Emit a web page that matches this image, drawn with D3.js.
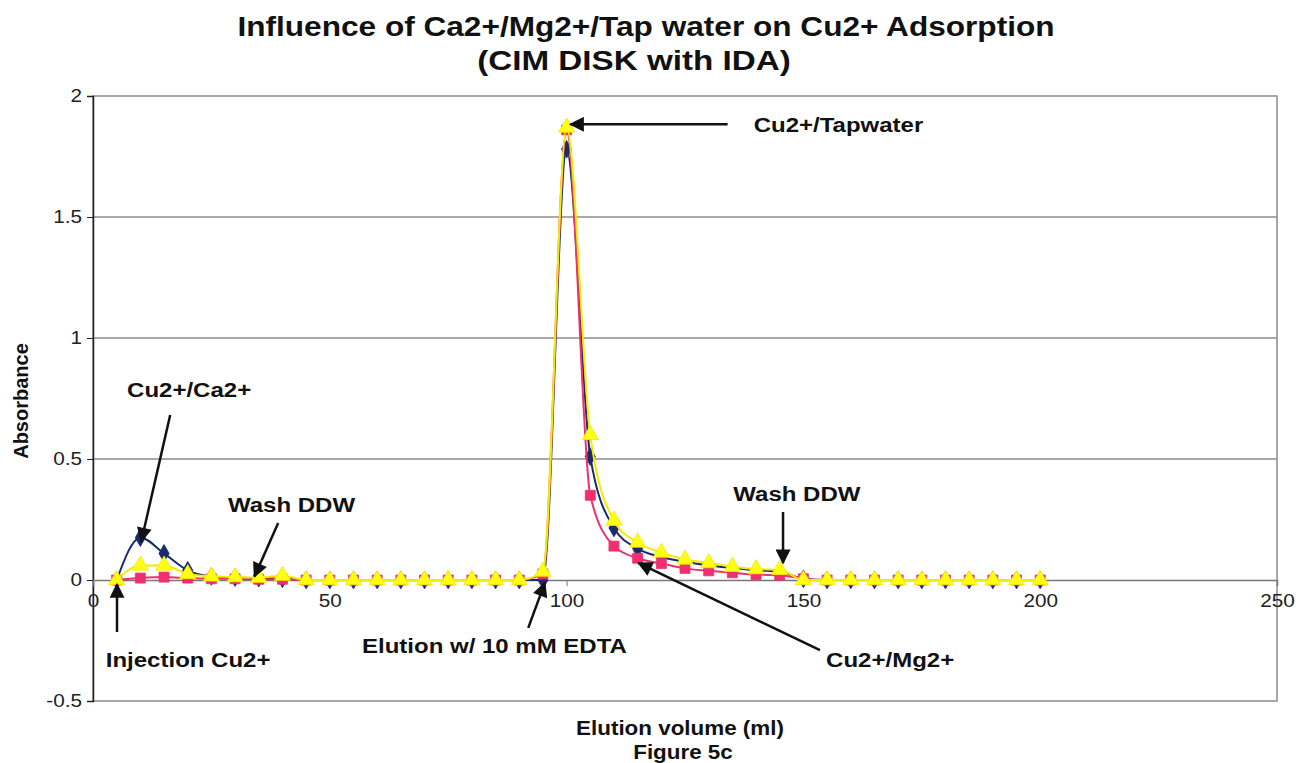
<!DOCTYPE html>
<html>
<head>
<meta charset="utf-8">
<script src="https://cdn.jsdelivr.net/npm/d3@7"></script>
<style>
  body { margin: 0; background: #fff; }
  text { font-family: "Liberation Sans", Arial, sans-serif; }
</style>
</head>
<body>
<div id="chart"></div>
<script>
// elution volume (ml) for each reading
var volumes = [5, 10, 15, 20, 25, 30, 35, 40, 45, 50, 55, 60, 65, 70, 75, 80, 85, 90, 95, 100,
               105, 110, 115, 120, 125, 130, 135, 140, 145, 150, 155, 160, 165, 170, 175, 180, 185, 190, 195, 200];

// absorbance readings
var caValues = [0, 0.175, 0.11, 0.04, 0.015, 0.01, 0.008, 0.005, 0, 0, 0, 0, 0, 0, 0, 0, 0, 0, 0, 1.78,
                0.51, 0.215, 0.13, 0.095, 0.075, 0.06, 0.05, 0.04, 0.035, 0.005, 0, 0, 0, 0, 0, 0, 0, 0, 0, 0];
var mgValues = [0, 0.008, 0.012, 0.008, 0.005, 0.005, 0.003, 0.003, 0, 0, 0, 0, 0, 0, 0, 0, 0, 0, 0.025, 1.86,
                0.35, 0.14, 0.09, 0.068, 0.048, 0.038, 0.03, 0.022, 0.02, 0.005, 0, 0, 0, 0, 0, 0, 0, 0, 0, 0];
var tapValues = [0, 0.06, 0.06, 0.025, 0.015, 0.012, 0.01, 0.018, 0, 0, 0, 0, 0, 0, 0, 0, 0, 0, 0.035, 1.87,
                 0.6, 0.245, 0.155, 0.113, 0.085, 0.07, 0.055, 0.045, 0.042, 0, 0, 0, 0, 0, 0, 0, 0, 0, 0, 0];

var xTicks = [0, 50, 100, 150, 200, 250];
var yTicks = [-0.5, 0, 0.5, 1, 1.5, 2];

// annotation labels and their arrows (data units)
var noteTexts = ["Cu2+/Tapwater", "Cu2+/Ca2+", "Wash DDW", "Injection Cu2+", "Elution w/ 10 mM EDTA", "Cu2+/Mg2+", "Wash DDW"];
var noteAt = [[139.5, 1.85], [7.2, 0.756], [28.5, 0.281], [2.7, -0.36], [56.8, -0.30], [154.8, -0.36], [135.2, 0.326]];
var arrowFrom = [[134, 1.883], [16.3, 0.682], [39.1, 0.236], [5.07, -0.215], [91.9, -0.198], [153.5, -0.29], [145.7, 0.281]];
var arrowTo = [[100.8, 1.883], [10.2, 0.16], [34.1, 0.015], [5.07, -0.018], [95.4, -0.012], [115.2, 0.07], [145.7, 0.07]];

var width = 1296, height = 763;
var margin = {left: 93, right: 19, top: 96, bottom: 62};

// the original picture is a little wider than it is tall, so text is stretched sideways
function stretch(sel, k) {
    sel.each(function() {
        var len = this.getComputedTextLength();
        d3.select(this).attr("textLength", len * k).attr("lengthAdjust", "spacingAndGlyphs");
    });
}

var svg = d3.select("#chart").append("svg")
    .attr("width", width)
    .attr("height", height);

var x = d3.scaleLinear().domain([0, 250]).range([margin.left, width - margin.right]);
var y = d3.scaleLinear().domain([-0.5, 2]).range([height - margin.bottom, margin.top]);

// plot frame
svg.append("rect")
    .attr("x", x(0)).attr("y", y(2))
    .attr("width", x(250) - x(0)).attr("height", y(-0.5) - y(2))
    .attr("fill", "none").attr("stroke", "#8c8c8c").attr("stroke-width", 1.5);

// gridlines
svg.selectAll(".grid").data(yTicks.filter(d => d > 0 && d < 2)).enter()
    .append("line")
    .attr("x1", x(0)).attr("x2", x(250))
    .attr("y1", d => y(d)).attr("y2", d => y(d))
    .attr("stroke", "#8c8c8c").attr("stroke-width", 1.5);

// y axis
var yAxis = svg.append("g")
    .attr("transform", `translate(${x(0)},0)`)
    .call(d3.axisLeft(y).tickValues(yTicks).tickSize(6).tickPadding(5).tickFormat(d => String(d)));
yAxis.select(".domain").attr("stroke", "#222").attr("stroke-width", 1.5);
yAxis.selectAll(".tick line").attr("stroke", "#222");
yAxis.selectAll("text").style("font-size", "18px").attr("fill", "#222").call(stretch, 1.15);

// x axis at zero
var xAxis = svg.append("g")
    .attr("transform", `translate(0,${y(0)})`)
    .call(d3.axisBottom(x).tickValues(xTicks).tickSize(6).tickPadding(8));
xAxis.select(".domain").attr("stroke", "#777").attr("stroke-width", 1.5);
xAxis.selectAll(".tick line").attr("stroke", "#777");
xAxis.selectAll("text").style("font-size", "18px").attr("fill", "#222").call(stretch, 1.15);

var series = [
    {name: "Cu2+/Ca2+", values: caValues, color: "#1b2a6b", fill: "#1b2a6b", shape: d3.symbolDiamond, size: 90},
    {name: "Cu2+/Mg2+", values: mgValues, color: "#f0306e", fill: "#f0306e", shape: d3.symbolSquare, size: 100},
    {name: "Cu2+/Tapwater", values: tapValues, color: "#f2ea00", fill: "#ffff10", shape: d3.symbolTriangle, size: 115}
];

var line = d3.line()
    .x((d, i) => x(volumes[i]))
    .y(d => y(d))
    .curve(d3.curveMonotoneX);

series.forEach(function(s) {
    svg.append("path")
        .datum(s.values)
        .attr("d", line)
        .attr("fill", "none")
        .attr("stroke", s.color)
        .attr("stroke-width", 2);

    svg.selectAll(null)
        .data(s.values)
        .enter()
        .append("path")
        .attr("d", d3.symbol().type(s.shape).size(s.size))
        .attr("transform", (d, i) => `translate(${x(volumes[i])},${y(d)})`)
        .attr("fill", s.fill)
        .attr("stroke", s.color)
        .attr("stroke-width", 0.8);
});

// arrow head marker
svg.append("defs").append("marker")
    .attr("id", "head")
    .attr("viewBox", "0 0 10 10")
    .attr("refX", 9).attr("refY", 5)
    .attr("markerWidth", 7).attr("markerHeight", 6)
    .attr("markerUnits", "strokeWidth")
    .attr("orient", "auto")
    .append("path")
    .attr("d", "M0,0 L10,5 L0,10 z")
    .attr("fill", "#111");

svg.selectAll(".arrow").data(noteTexts).enter()
    .append("line")
    .attr("x1", (d, i) => x(arrowFrom[i][0]))
    .attr("y1", (d, i) => y(arrowFrom[i][1]))
    .attr("x2", (d, i) => x(arrowTo[i][0]))
    .attr("y2", (d, i) => y(arrowTo[i][1]))
    .attr("stroke", "#111")
    .attr("stroke-width", 2.5)
    .attr("marker-end", "url(#head)");

svg.selectAll(".note").data(noteTexts).enter()
    .append("text")
    .attr("x", (d, i) => x(noteAt[i][0]))
    .attr("y", (d, i) => y(noteAt[i][1]))
    .style("font-size", "20px")
    .style("font-weight", "bold")
    .attr("fill", "#111")
    .text(d => d)
    .call(stretch, 1.2);

// titles
svg.append("text")
    .attr("x", 646).attr("y", 36)
    .attr("text-anchor", "middle")
    .style("font-size", "27px").style("font-weight", "bold")
    .attr("fill", "#111")
    .text("Influence of Ca2+/Mg2+/Tap water on Cu2+ Adsorption")
    .call(stretch, 1.17);
svg.append("text")
    .attr("x", 634).attr("y", 70)
    .attr("text-anchor", "middle")
    .style("font-size", "27px").style("font-weight", "bold")
    .attr("fill", "#111")
    .text("(CIM DISK with IDA)")
    .call(stretch, 1.23);

svg.append("text")
    .attr("transform", "translate(28,401) rotate(-90)")
    .attr("text-anchor", "middle")
    .style("font-size", "20px").style("font-weight", "bold")
    .attr("fill", "#111")
    .text("Absorbance");

svg.append("text")
    .attr("x", 680).attr("y", 735)
    .attr("text-anchor", "middle")
    .style("font-size", "20px").style("font-weight", "bold")
    .attr("fill", "#111")
    .text("Elution volume (ml)")
    .call(stretch, 1.12);
svg.append("text")
    .attr("x", 683).attr("y", 759)
    .attr("text-anchor", "middle")
    .style("font-size", "20px").style("font-weight", "bold")
    .attr("fill", "#111")
    .text("Figure 5c")
    .call(stretch, 1.12);
</script>
</body>
</html>
